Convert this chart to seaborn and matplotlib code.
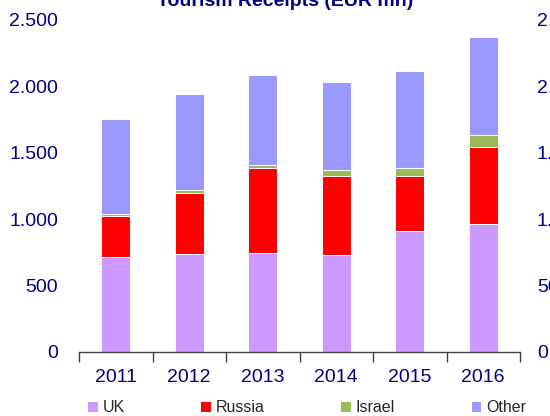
import numpy as np
import pandas as pd
import matplotlib
matplotlib.use("Agg")
import matplotlib.pyplot as plt
from matplotlib.ticker import FuncFormatter, FixedLocator
from matplotlib.patches import Patch
import seaborn as sns

years = ["2011", "2012", "2013", "2014", "2015", "2016"]
uk = [715, 735, 748, 730, 911, 962]
russia = [311, 465, 640, 598, 417, 584]
israel = [15, 20, 22, 40, 55, 88]
other = [711, 723, 676, 663, 735, 738]

series = ["UK", "Russia", "Israel", "Other"]
colors = ["#CC99FF", "#FF0000", "#9BBB59", "#9999FF"]
navy = "#000080"

sns.set_theme(style="white")
plt.rcParams["font.family"] = ["Liberation Sans", "DejaVu Sans"]

vals = np.array([uk, russia, israel, other], dtype=float)
cum = np.cumsum(vals, axis=0)

fig = plt.figure(figsize=(5.5, 4.16), dpi=100)
ax = fig.add_axes([79 / 550, 1 - 352 / 416, 441 / 550, 332 / 416])

# stacked bars: draw cumulative totals from the top layer down
for i in range(len(series) - 1, -1, -1):
    df = pd.DataFrame({"year": years, "value": cum[i]})
    sns.barplot(data=df, x="year", y="value", color=colors[i], saturation=1,
                width=0.4, edgecolor="white", linewidth=0.7, ax=ax)

fmt = FuncFormatter(lambda v, p: f"{int(v):,}".replace(",", "."))
ax.set_ylim(0, 2500)
ax.set_xlim(-0.5, 5.5)
ax.set_yticks(range(0, 2501, 500))
ax.yaxis.set_major_formatter(fmt)
ax.set_xlabel("")
ax.set_ylabel("")
for s in ["left", "right", "top"]:
    ax.spines[s].set_visible(False)
ax.spines["bottom"].set_color("#404040")
ax.spines["bottom"].set_linewidth(1)

ax.tick_params(axis="x", which="major", length=0, pad=12, labelsize=14, labelcolor=navy)
ax.xaxis.set_minor_locator(FixedLocator(np.arange(-0.5, 6, 1)))
ax.tick_params(axis="x", which="minor", length=7, width=1, color="#404040", bottom=True)
ax.tick_params(axis="y", length=0, pad=15, labelsize=14, labelcolor=navy)

ax2 = ax.twinx()
ax2.set_ylim(0, 2500)
ax2.set_yticks(range(0, 2501, 500))
ax2.yaxis.set_major_formatter(fmt)
ax2.tick_params(axis="y", length=0, pad=12.2, labelsize=14, labelcolor=navy)
for s in ["left", "right", "top", "bottom"]:
    ax2.spines[s].set_visible(False)

fig.text(285 / 550, 1 - 2 / 416, "Tourism Receipts (EUR mn)", ha="center", va="center",
         fontsize=14, fontweight="bold", color=navy)

handles = [Patch(facecolor=c, edgecolor="none") for c in colors]
fig.legend(handles, series, loc="center left", bbox_to_anchor=(88 / 550, 1 - 408 / 416),
           ncol=4, frameon=False, fontsize=11.5, handlelength=0.6, handleheight=0.6,
           handletextpad=0.3, columnspacing=4.8, borderaxespad=0, borderpad=0)

fig.savefig("out.png", dpi=100)
